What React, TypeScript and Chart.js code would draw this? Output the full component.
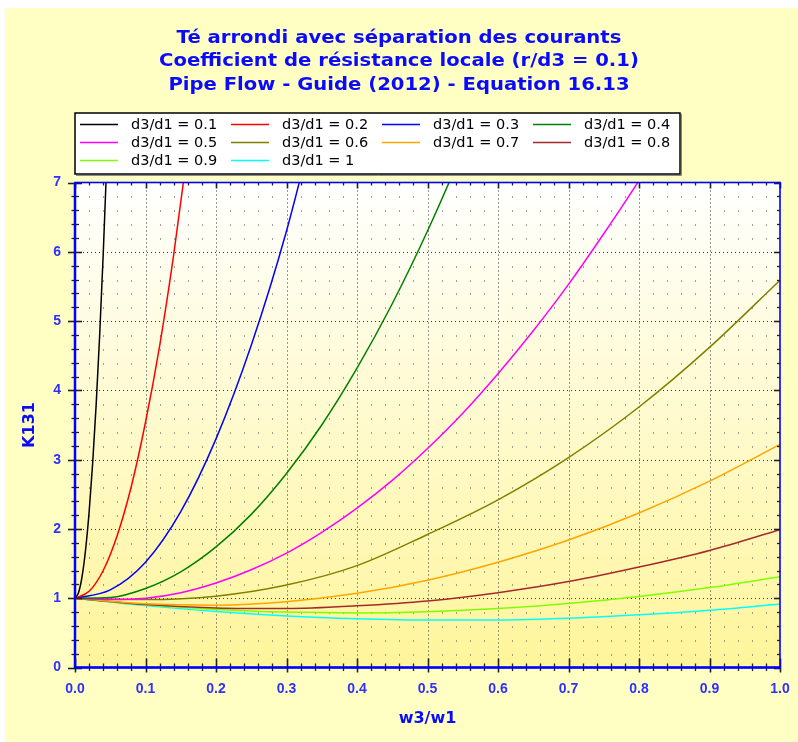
import React, { useEffect, useRef } from 'react';
import { Chart, registerables } from 'chart.js';

Chart.register(...registerables);

const FONT = '"Liberation Sans", Arial, Helvetica, sans-serif';
const WIDE_FONT = '"DejaVu Sans", Verdana, sans-serif';

const TITLE_LINES = [
  'Té arrondi avec séparation des courants',
  'Coefficient de résistance locale (r/d3 = 0.1)',
  'Pipe Flow - Guide (2012) - Equation 16.13',
];
const X_TITLE = 'w3/w1';
const Y_TITLE = 'K131';
const X_TICK_LABELS = ['0.0', '0.1', '0.2', '0.3', '0.4', '0.5', '0.6', '0.7', '0.8', '0.9', '1.0'];
const Y_TICK_LABELS = ['0', '1', '2', '3', '4', '5', '6', '7'];

const SERIES_LABELS = [
  'd3/d1 = 0.1', 'd3/d1 = 0.2', 'd3/d1 = 0.3', 'd3/d1 = 0.4', 'd3/d1 = 0.5',
  'd3/d1 = 0.6', 'd3/d1 = 0.7', 'd3/d1 = 0.8', 'd3/d1 = 0.9', 'd3/d1 = 1',
];
const SERIES_COLORS = [
  '#000000', '#FF0000', '#0000FF', '#008000', '#FF00FF',
  '#808000', '#FFA500', '#A52A2A', '#7FFF00', '#00FFFF',
];

// d3/d1 = 0.1
const X_01 = [0, 0.005, 0.01, 0.015, 0.02, 0.025, 0.03, 0.035, 0.04, 0.045, 0.05];
const K_01 = [1, 1.08, 1.31, 1.7, 2.24, 2.94, 3.79, 4.8, 5.96, 7.28, 8.75];
// d3/d1 = 0.2
const X_02 = [0, 0.02, 0.04, 0.06, 0.08, 0.1, 0.12, 0.14, 0.16, 0.18];
const K_02 = [1, 1.1, 1.4, 1.91, 2.62, 3.54, 4.64, 5.96, 7.48, 9.2];
// d3/d1 = 0.3
const X_03 = [0, 0.05, 0.1, 0.15, 0.2, 0.25, 0.3, 0.35];
const K_03 = [1, 1.12, 1.52, 2.25, 3.3, 4.65, 6.3, 8.3];
// d3/d1 = 0.4
const X_04 = [0, 0.05, 0.1, 0.15, 0.2, 0.25, 0.3, 0.35, 0.4, 0.45, 0.5, 0.55, 0.6];
const K_04 = [1, 1.01, 1.14, 1.38, 1.74, 2.21, 2.8, 3.5, 4.32, 5.25, 6.3, 7.46, 8.7];
// d3/d1 = 0.5
const X_05 = [0, 0.05, 0.1, 0.15, 0.2, 0.25, 0.3, 0.35, 0.4, 0.45, 0.5, 0.55, 0.6, 0.65, 0.7, 0.75, 0.8, 0.85];
const K_05 = [1, 0.98, 1.0, 1.08, 1.22, 1.41, 1.65, 1.95, 2.3, 2.7, 3.16, 3.67, 4.24, 4.86, 5.53, 6.26, 7.03, 7.87];
// d3/d1 = 0.6 .. 1 share the same abscissae
const X_FULL = [0, 0.1, 0.2, 0.3, 0.4, 0.5, 0.6, 0.7, 0.8, 0.9, 1.0];
const K_06 = [1, 0.98, 1.03, 1.19, 1.47, 1.92, 2.42, 3.03, 3.76, 4.62, 5.59];
const K_07 = [1, 0.92, 0.9, 0.95, 1.07, 1.26, 1.52, 1.84, 2.23, 2.69, 3.22];
const K_08 = [1, 0.91, 0.86, 0.85, 0.89, 0.96, 1.08, 1.24, 1.45, 1.69, 1.99];
const K_09 = [1, 0.905, 0.838, 0.8, 0.788, 0.805, 0.85, 0.923, 1.024, 1.153, 1.31];
const K_10 = [1, 0.893, 0.809, 0.745, 0.705, 0.685, 0.687, 0.712, 0.76, 0.827, 0.916];

const SERIES_X = [X_01, X_02, X_03, X_04, X_05, X_FULL, X_FULL, X_FULL, X_FULL, X_FULL];
const SERIES_K = [K_01, K_02, K_03, K_04, K_05, K_06, K_07, K_08, K_09, K_10];

const AXIS_BLUE = '#0000FF';
const TEXT_BLUE = '#0A0AFF';
const TICK_BLUE = '#3030FF';

const decorPlugin = {
  id: 'decor',
  beforeDraw(chart: any) {
    const { ctx, chartArea: a, width, height } = chart;
    const xs = chart.scales.x;
    const ys = chart.scales.y;
    ctx.save();
    ctx.fillStyle = '#FFFFC4';
    ctx.fillRect(0, 0, width, height);
    const g = ctx.createLinearGradient(0, a.top, 0, a.bottom);
    g.addColorStop(0, '#FFFFFF');
    g.addColorStop(1, '#FFF59A');
    ctx.fillStyle = g;
    ctx.fillRect(a.left, a.top, a.right - a.left, a.bottom - a.top);

    // minor lattice
    ctx.fillStyle = 'rgba(70,70,70,0.5)';
    for (let i = 1; i < 50; i++) {
      if (i % 5 === 0) continue;
      const px = Math.round(xs.getPixelForValue(i * 0.02));
      for (let j = 1; j < 35; j++) {
        if (j % 5 === 0) continue;
        const py = Math.round(ys.getPixelForValue(j * 0.2));
        ctx.fillRect(px, py, 1, 2);
      }
    }
    // major dotted grid
    ctx.strokeStyle = '#333333';
    ctx.lineWidth = 1;
    ctx.setLineDash([1, 3]);
    for (let i = 1; i < 10; i++) {
      const px = Math.round(xs.getPixelForValue(i / 10)) + 0.5;
      ctx.beginPath();
      ctx.moveTo(px, a.top);
      ctx.lineTo(px, a.bottom);
      ctx.stroke();
    }
    for (let j = 1; j < 7; j++) {
      const py = Math.round(ys.getPixelForValue(j)) + 0.5;
      ctx.beginPath();
      ctx.moveTo(a.left, py);
      ctx.lineTo(a.right, py);
      ctx.stroke();
    }
    ctx.restore();
  },
  afterDatasetsDraw(chart: any) {
    const { ctx, chartArea: a } = chart;
    const xs = chart.scales.x;
    const ys = chart.scales.y;
    ctx.save();
    ctx.strokeStyle = '#222222';
    // x ticks
    for (let i = 0; i <= 50; i++) {
      const px = Math.round(xs.getPixelForValue(i * 0.02)) + 0.5;
      const major = i % 5 === 0;
      ctx.lineWidth = major ? 1.6 : 1.3;
      ctx.beginPath();
      ctx.moveTo(px, a.bottom - (major ? 9 : 4));
      ctx.lineTo(px, a.bottom + (major ? 5 : 3.5));
      ctx.stroke();
      ctx.beginPath();
      ctx.moveTo(px, a.top);
      ctx.lineTo(px, a.top + (major ? 6 : 3));
      ctx.stroke();
    }
    // y ticks
    for (let j = 0; j <= 35; j++) {
      const py = Math.round(ys.getPixelForValue(j * 0.2)) + 0.5;
      const major = j % 5 === 0;
      ctx.lineWidth = major ? 1.6 : 1.3;
      ctx.beginPath();
      ctx.moveTo(a.left - (major ? 7 : 3.5), py);
      ctx.lineTo(a.left + (major ? 7 : 4), py);
      ctx.stroke();
      ctx.beginPath();
      ctx.moveTo(a.right - (major ? 6 : 3), py);
      ctx.lineTo(a.right, py);
      ctx.stroke();
    }
    // axes / frame
    ctx.strokeStyle = AXIS_BLUE;
    ctx.lineWidth = 1.6;
    ctx.strokeRect(a.left, a.top, a.right - a.left, a.bottom - a.top);
    ctx.lineWidth = 2.5;
    ctx.beginPath();
    ctx.moveTo(a.left, a.top);
    ctx.lineTo(a.left, a.bottom);
    ctx.lineTo(a.right, a.bottom);
    ctx.stroke();
    ctx.restore();
  },
  afterDraw(chart: any) {
    const { ctx, chartArea: a } = chart;
    ctx.save();
    // title
    ctx.fillStyle = TEXT_BLUE;
    ctx.font = `bold 18px ${WIDE_FONT}`;
    ctx.textAlign = 'center';
    ctx.textBaseline = 'middle';
    const cx = 394;
    TITLE_LINES.forEach((t, i) => {
      ctx.save();
      ctx.translate(cx, 30 + i * 23.5);
      ctx.scale(1.09, 1);
      ctx.fillText(t, 0, 0);
      ctx.restore();
    });

    // legend
    const bx = a.left, by = 105, bw = 605, bh = 61;
    ctx.fillStyle = '#FFFFFF';
    ctx.fillRect(bx, by, bw, bh);
    ctx.strokeStyle = '#000000';
    ctx.lineWidth = 1.5;
    ctx.strokeRect(bx, by, bw, bh);
    ctx.strokeStyle = '#888888';
    ctx.lineWidth = 1;
    ctx.beginPath();
    ctx.moveTo(bx + 1, by + bh + 1.5);
    ctx.lineTo(bx + bw + 1.5, by + bh + 1.5);
    ctx.lineTo(bx + bw + 1.5, by + 1);
    ctx.stroke();
    ctx.font = `14.5px ${WIDE_FONT}`;
    ctx.textAlign = 'left';
    ctx.textBaseline = 'middle';
    chart.data.datasets.forEach((ds: any, i: number) => {
      const col = i % 4;
      const row = Math.floor(i / 4);
      const lx = bx + 5 + col * 151;
      const ly = by + 11 + row * 18;
      ctx.strokeStyle = ds.borderColor;
      ctx.lineWidth = 1.5;
      ctx.beginPath();
      ctx.moveTo(lx, ly + 0.5);
      ctx.lineTo(lx + 38, ly + 0.5);
      ctx.stroke();
      ctx.fillStyle = '#000000';
      ctx.fillText(ds.label, lx + 51, ly + 1);
    });
    ctx.restore();
  },
};

export default function App() {
  const canvasRef = useRef<HTMLCanvasElement | null>(null);

  useEffect(() => {
    document.body.style.margin = '0';
    const canvas = canvasRef.current;
    if (!canvas) return;
    const datasets = SERIES_LABELS.map((label, i) => ({
      label,
      data: SERIES_X[i].map((x, k) => ({ x, y: SERIES_K[i][k] })),
      borderColor: SERIES_COLORS[i],
      backgroundColor: SERIES_COLORS[i],
      borderWidth: 1.5,
      pointRadius: 0,
      cubicInterpolationMode: 'monotone' as const,
      fill: false,
      clip: 0,
    }));
    const chart = new Chart(canvas, {
      type: 'line',
      data: { datasets },
      options: {
        responsive: false,
        animation: false,
        devicePixelRatio: 1,
        layout: { padding: { top: 174.5, right: 18, bottom: 0, left: 0 } },
        plugins: {
          legend: { display: false },
          title: { display: false },
          tooltip: { enabled: false },
        },
        scales: {
          x: {
            type: 'linear',
            min: 0,
            max: 1,
            grid: { display: false },
            border: { display: false },
            ticks: {
              stepSize: 0.1,
              autoSkip: false,
              maxRotation: 0,
              padding: 5,
              color: TICK_BLUE,
              font: { family: FONT, size: 14, weight: 'bold' },
              callback: (_v: any, i: number) => X_TICK_LABELS[i],
            },
            title: {
              display: true,
              text: X_TITLE,
              color: TEXT_BLUE,
              font: { family: WIDE_FONT, size: 16, weight: 'bold' },
              padding: { top: 0, bottom: 14 },
            },
            afterFit: (s: any) => { s.height = 74.5; },
          },
          y: {
            type: 'linear',
            min: 0,
            max: 7,
            grid: { display: false },
            border: { display: false },
            ticks: {
              stepSize: 1,
              autoSkip: false,
              padding: 6,
              color: TICK_BLUE,
              font: { family: FONT, size: 14, weight: 'bold' },
              callback: (_v: any, i: number) => Y_TICK_LABELS[i],
            },
            title: {
              display: true,
              text: Y_TITLE,
              color: TEXT_BLUE,
              font: { family: WIDE_FONT, size: 16, weight: 'bold' },
              padding: { top: 15, bottom: 0 },
            },
            afterFit: (s: any) => { s.width = 70; },
          },
        },
      } as any,
      plugins: [decorPlugin],
    });
    return () => chart.destroy();
  }, []);

  return (
    <div style={{ paddingTop: 8, paddingLeft: 5, background: '#FFFFFF', width: 793, height: 734 }}>
      <canvas ref={canvasRef} width={793} height={734} style={{ display: 'block' }} />
    </div>
  );
}
